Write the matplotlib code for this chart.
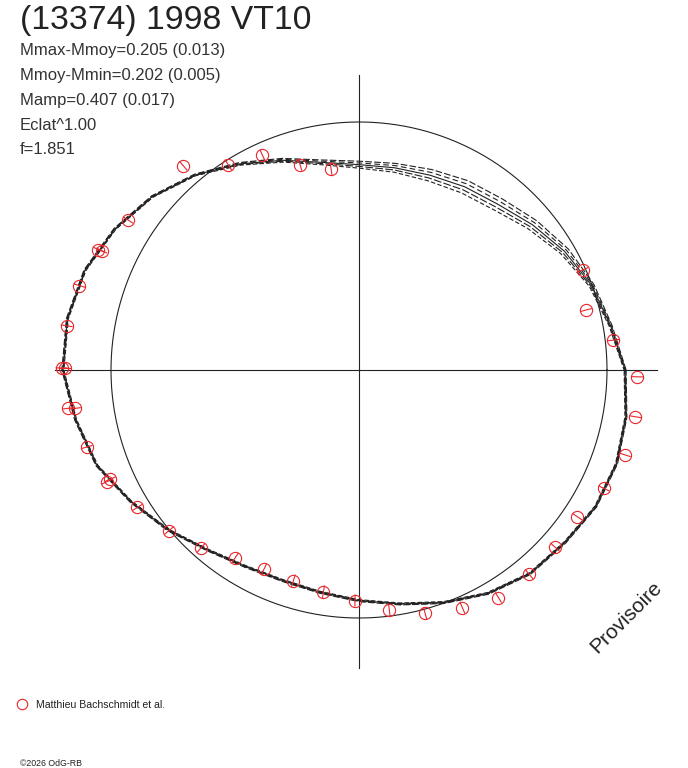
import numpy as np
import matplotlib
matplotlib.use("Agg")
import matplotlib.pyplot as plt

# polar light curve of (13374) 1998 VT10 : angle = rotation phase, radius = relative flux
title = "(13374) 1998 VT10"
info_lines = ["Mmax-Mmoy=0.205 (0.013)", "Mmoy-Mmin=0.202 (0.005)",
              "Mamp=0.407 (0.017)", "Eclat^1.00", "f=1.851"]
observer = "Matthieu Bachschmidt et al."
credit = "\u00a92026 OdG-RB"

# observations (phase in degrees, relative flux, error)
obs_phase = [6.7, 14.8, 24.1, 97.9, 106.0, 114.2, 122.5, 130.7, 147.0, 155.2, 155.1,
             163.2, 171.4, 179.6, 179.7, 187.5, 187.7, 195.8, 203.9, 203.7, 211.8,
             220.2, 228.4, 236.6, 244.5, 252.7, 260.9, 269.0, 277.2, 285.2, 293.5,
             301.5, 309.8, 317.9, 326.1, 334.2, 342.3, 350.4, 358.6]
obs_flux = [1.033, 0.947, 0.988, 0.819, 0.860, 0.950, 0.980, 1.086, 1.110, 1.158, 1.144,
            1.178, 1.192, 1.199, 1.185, 1.182, 1.156, 1.141, 1.113, 1.096, 1.052,
            1.003, 0.959, 0.907, 0.890, 0.890, 0.906, 0.930, 0.975, 1.017, 1.045,
            1.076, 1.072, 1.066, 1.061, 1.097, 1.126, 1.129, 1.123]
obs_err = [0.022, 0.022, 0.024, 0.024, 0.022, 0.022, 0.024, 0.022, 0.022, 0.022, 0.022,
           0.022, 0.022, 0.022, 0.022, 0.022, 0.022, 0.022, 0.022, 0.022, 0.022,
           0.022, 0.022, 0.022, 0.022, 0.024, 0.024, 0.022, 0.024, 0.024, 0.024,
           0.022, 0.022, 0.022, 0.022, 0.022, 0.022, 0.022, 0.022]

# model solutions, sampled every 10 degrees
model_phase = list(range(0, 360, 10))
model_a = [1.077, 1.036, 1.008, 0.975, 0.936, 0.900, 0.881, 0.860, 0.846, 0.842, 0.860, 0.908,
           0.966, 1.031, 1.092, 1.141, 1.180, 1.198, 1.198, 1.164, 1.129, 1.066, 1.008, 0.952,
           0.919, 0.907, 0.914, 0.934, 0.962, 1.002, 1.044, 1.076, 1.087, 1.106, 1.109, 1.097]
model_b = [1.075, 1.033, 1.003, 0.966, 0.924, 0.886, 0.867, 0.848, 0.837, 0.835, 0.855, 0.904,
           0.963, 1.029, 1.090, 1.139, 1.178, 1.196, 1.196, 1.162, 1.127, 1.064, 1.006, 0.950,
           0.917, 0.905, 0.912, 0.932, 0.960, 1.000, 1.042, 1.074, 1.085, 1.104, 1.107, 1.095]
model_c = [1.073, 1.030, 0.998, 0.957, 0.912, 0.872, 0.853, 0.836, 0.828, 0.828, 0.850, 0.900,
           0.960, 1.027, 1.088, 1.137, 1.176, 1.194, 1.194, 1.160, 1.125, 1.062, 1.004, 0.948,
           0.915, 0.903, 0.910, 0.930, 0.958, 0.998, 1.040, 1.072, 1.083, 1.102, 1.105, 1.093]
model_d = [1.071, 1.027, 0.993, 0.948, 0.900, 0.858, 0.839, 0.824, 0.819, 0.821, 0.845, 0.896,
           0.957, 1.025, 1.086, 1.135, 1.174, 1.192, 1.192, 1.158, 1.123, 1.060, 1.002, 0.946,
           0.913, 0.901, 0.908, 0.928, 0.956, 0.996, 1.038, 1.070, 1.081, 1.100, 1.103, 1.091]
model_e = [1.069, 1.024, 0.988, 0.939, 0.888, 0.844, 0.825, 0.812, 0.810, 0.814, 0.840, 0.892,
           0.954, 1.023, 1.084, 1.133, 1.172, 1.190, 1.190, 1.156, 1.121, 1.058, 1.000, 0.944,
           0.911, 0.899, 0.906, 0.926, 0.954, 0.994, 1.036, 1.068, 1.079, 1.098, 1.101, 1.089]

RED = "#e8262b"
INK = "#222222"
W, H = 688, 768
CX, CY, R = 359, 370, 248   # centre and unit radius in pixels

fig = plt.figure(figsize=(W / 100, H / 100), dpi=100)
ax = fig.add_axes([0, 0, 1, 1])
ax.set_xlim(-CX / R, (W - CX) / R)
ax.set_ylim((CY - H) / R, CY / R)
ax.set_aspect("equal")
ax.axis("off")

# axes cross and unit circle
ax.plot([-1.226, 1.202], [0, 0], color=INK, lw=0.8)
ax.plot([0, 0], [-1.202, 1.190], color=INK, lw=0.8)
t = np.linspace(0, 2 * np.pi, 400)
ax.plot(np.cos(t), np.sin(t), color=INK, lw=0.8)

# model curves (closed)
styles = [(0, (6, 2)), (2, (5, 3)), "-", (4, (7, 2)), (1, (4, 2))]
for curve, ls in zip([model_a, model_b, model_c, model_d, model_e], styles):
    ph = np.radians(model_phase + [model_phase[0]])
    rr = np.array(curve + [curve[0]])
    ax.plot(rr * np.cos(ph), rr * np.sin(ph), color=INK, lw=0.8, ls=ls)

# observations with radial error bars
ph = np.radians(obs_phase)
fl = np.array(obs_flux)
er = np.array(obs_err)
for a, f, e in zip(ph, fl, er):
    ax.plot([(f - e) * np.cos(a), (f + e) * np.cos(a)],
            [(f - e) * np.sin(a), (f + e) * np.sin(a)], color=RED, lw=0.8)
ax.plot(fl * np.cos(ph), fl * np.sin(ph), ls="none", marker="o", ms=8.8,
        mfc="none", mec=RED, mew=0.8)

# texts
fig.text(20 / W, 1 - 5 / H, title, fontsize=24.3, color=INK, va="top",
         family="Liberation Sans")
for i, line in enumerate(info_lines):
    fig.text(20 / W, 1 - (51 + 24.7 * i) / H, line, fontsize=12, color="#333333",
             va="center", family="Liberation Sans")

ax.plot([22 / W], [1 - 704 / H], transform=fig.transFigure, marker="o", ms=7.5,
        mfc="none", mec=RED, mew=0.8)
fig.text(36 / W, 1 - 705 / H, observer, fontsize=7.6, color=INK, va="center",
         family="Liberation Sans")
fig.text(20 / W, 1 - 763 / H, credit, fontsize=6.3, color=INK, va="center",
         family="Liberation Sans")
fig.text(626 / W, 1 - 617 / H, "Provisoire", fontsize=15, color=INK, rotation=45,
         ha="center", va="center", rotation_mode="anchor", family="Liberation Sans")

fig.savefig("out.png", dpi=100, facecolor="white")
